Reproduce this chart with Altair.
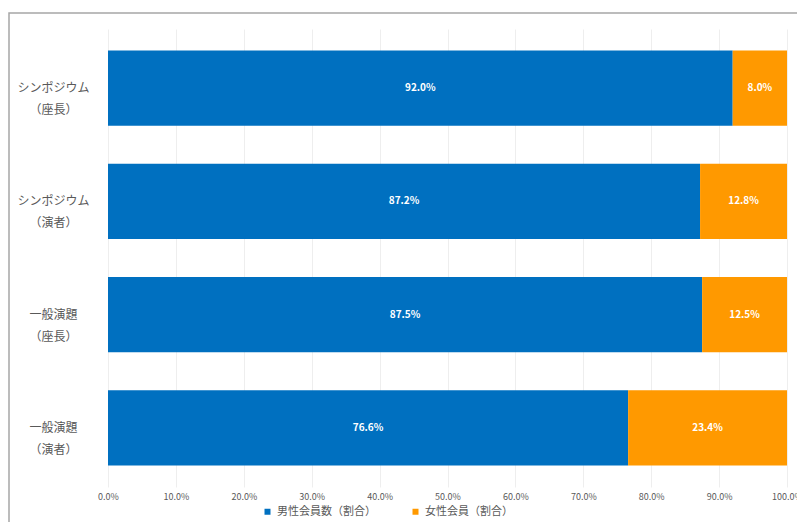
import altair as alt
import pandas as pd

categories = ["シンポジウム\n（座長）", "シンポジウム\n（演者）", "一般演題\n（座長）", "一般演題\n（演者）"]
male = [0.920, 0.872, 0.875, 0.766]
female = [0.080, 0.128, 0.125, 0.234]
series = ["男性会員数（割合）", "女性会員（割合）"]
colors = ["#0070C0", "#FF9900"]
x_ticks = [0, 0.1, 0.2, 0.3, 0.4, 0.5, 0.6, 0.7, 0.8, 0.9, 1.0]

rows = []
for c, m, f in zip(categories, male, female):
    rows.append({"cat": c, "series": series[0], "order": 0, "value": m})
    rows.append({"cat": c, "series": series[1], "order": 1, "value": f})
df = pd.DataFrame(rows)

FONT = "Noto Sans CJK JP"

base = alt.Chart(df).transform_stack(
    stack="value", groupby=["cat"], as_=["start", "end"],
    sort=[alt.SortField("order", order="ascending")]
).transform_calculate(mid="(datum.start + datum.end) / 2")

y_enc = alt.Y("cat:N", sort=categories, title=None,
              scale=alt.Scale(paddingInner=0.336, paddingOuter=0.19),
              axis=alt.Axis(labelExpr="split(datum.label, '\\n')", labelAlign="center",
                            labelPadding=55, ticks=False, tickSize=0, domain=False, grid=False,
                            labelFont=FONT, labelFontSize=12, labelColor="#595959",
                            labelLineHeight=22, labelBaseline="middle"))

bars = base.mark_bar().encode(
    x=alt.X("start:Q", scale=alt.Scale(domain=[0, 1], nice=False), title=None,
            axis=alt.Axis(values=x_ticks, format=".1%", labelFont=FONT, labelFontSize=9,
                          labelColor="#595959", ticks=False, domain=False, labelPadding=5,
                          grid=True, gridColor="#eeeeee", labelFlush=False)),
    x2="end:Q",
    y=y_enc,
    color=alt.Color("series:N", scale=alt.Scale(domain=series, range=colors), title=None,
                    legend=alt.Legend(orient="none", legendX=154, legendY=477, direction="horizontal",
                                      symbolType="square", symbolSize=36, labelFont=FONT,
                                      labelFontSize=11, labelColor="#595959", columnPadding=34,
                                      padding=0)),
)

texts = base.mark_text(color="white", fontWeight="bold", font=FONT, fontSize=10).encode(
    x=alt.X("mid:Q"),
    y=alt.Y("cat:N", sort=categories),
    text=alt.Text("value:Q", format=".1%"),
)

border = alt.Chart(pd.DataFrame({"a": [0]})).mark_rect(
    fill=None, stroke="#a6a6a6", strokeWidth=1.5
).encode(x=alt.value(-99), x2=alt.value(694), y=alt.value(-16), y2=alt.value(560))

chart = alt.layer(border, bars, texts).properties(
    width=679, height=458,
    autosize=alt.AutoSizeParams(type="none"),
    padding={"left": 100, "top": 21, "right": 10, "bottom": 35},
).configure_view(stroke=None)

chart.save("out.html", embed_options={"renderer": "svg", "actions": False})
